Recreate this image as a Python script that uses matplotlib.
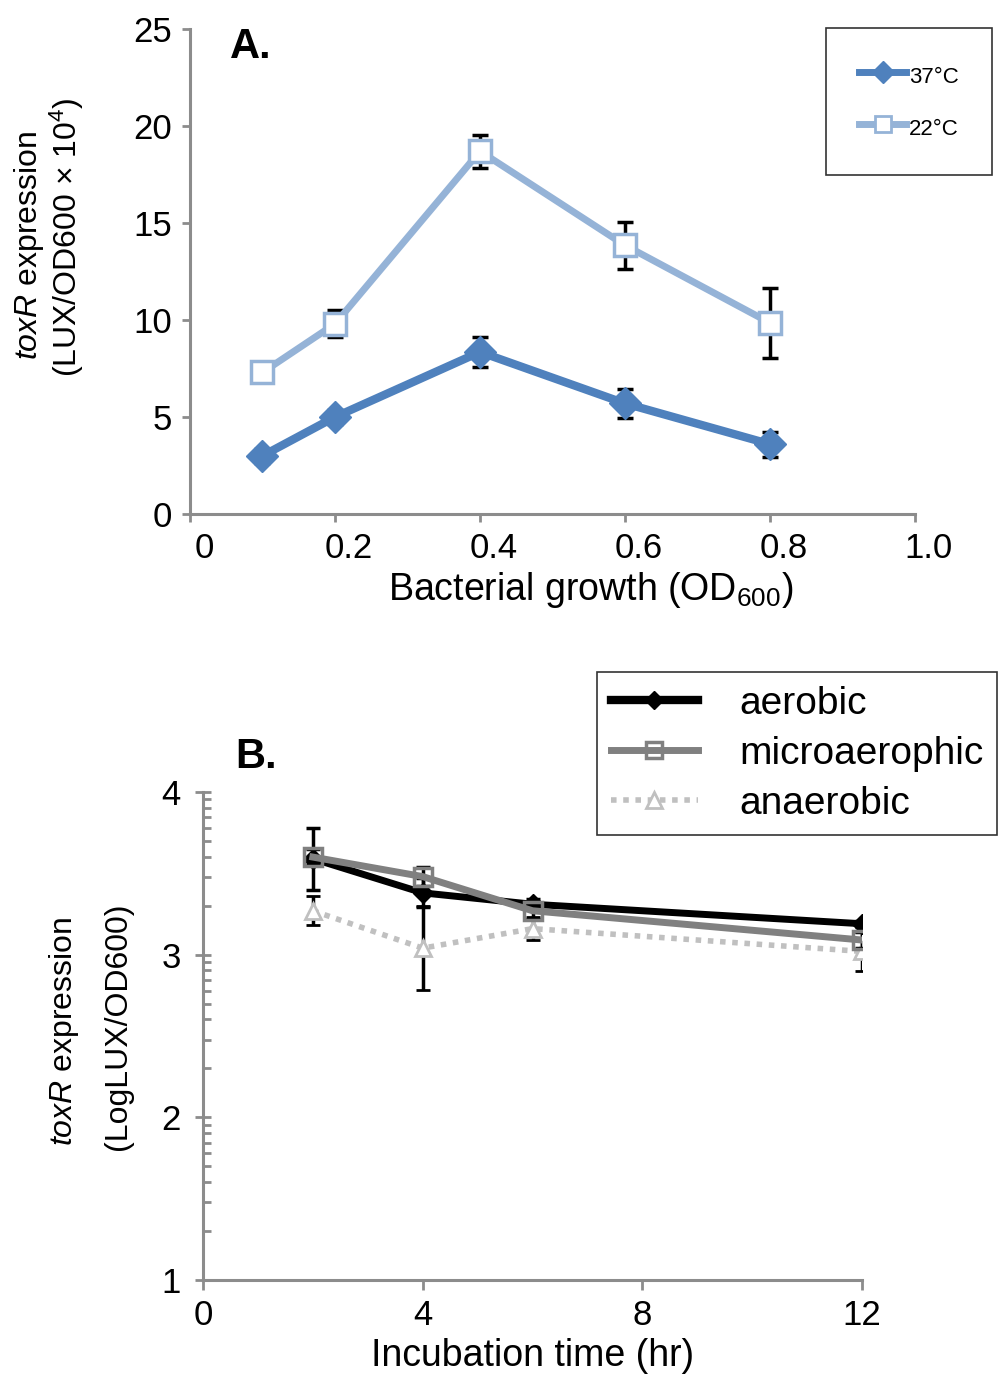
import numpy as np
import matplotlib
matplotlib.use("Agg")
import matplotlib.pyplot as plt
import matplotlib.transforms as mtransforms
from matplotlib.lines import Line2D

plt.rcParams['font.family'] = ['Liberation Sans', 'DejaVu Sans']
plt.rcParams['mathtext.fontset'] = 'custom'
plt.rcParams['mathtext.rm'] = 'Liberation Sans'
plt.rcParams['mathtext.it'] = 'Liberation Sans:italic'

# panel A data
od = [0.1, 0.2, 0.4, 0.6, 0.8]
lux_37 = [3.0, 5.0, 8.35, 5.7, 3.6]
err_37 = [0.35, 0.35, 0.75, 0.75, 0.65]
lux_22 = [7.3, 9.8, 18.7, 13.85, 9.85]
err_22 = [0.35, 0.7, 0.85, 1.2, 1.8]
od_ticks = [0, 0.2, 0.4, 0.6, 0.8, 1.0]
od_ticklabels = ['0', '0.2', '0.4', '0.6', '0.8', '1.0']

# panel B data
hours = [2, 4, 6, 12]
aerobic = [3.59, 3.38, 3.31, 3.19]
aerobic_err = [0.19, 0.09, 0.03, 0.02]
micro = [3.60, 3.48, 3.27, 3.09]
micro_err = [0.05, 0.06, 0.05, 0.05]
anaerobic = [3.27, 3.04, 3.16, 3.02]
anaerobic_err = [0.09, 0.26, 0.07, 0.12]

axis_grey = '#8c8c8c'
blue_dark = '#4f81bd'
blue_light = '#95b3d7'
grey_mid = '#808080'
grey_light = '#c0c0c0'

TICK_FS = 25
LABEL_FS = 27
YLAB_FS = 23

fig = plt.figure(figsize=(10.03, 13.87), dpi=100)
W, H = 1003.0, 1387.0

def px_axes(l, t, r, b):
    return fig.add_axes([l / W, 1 - b / H, (r - l) / W, (b - t) / H])

def style_axes(ax):
    for s in ['top', 'right']:
        ax.spines[s].set_visible(False)
    for s in ['left', 'bottom']:
        ax.spines[s].set_color(axis_grey)
        ax.spines[s].set_linewidth(2.2)
    ax.tick_params(which='both', color=axis_grey, width=2.0,
                   labelsize=TICK_FS, labelcolor='black')

# ---------- panel A ----------
axA = px_axes(190, 29, 915, 514)
style_axes(axA)
axA.errorbar(od, lux_22, yerr=err_22, color=blue_light, lw=5, marker='s',
             ms=16, mfc='white', mec=blue_light, mew=2.5, ecolor='black',
             elinewidth=2.5, capsize=6, capthick=2.5, zorder=3)
axA.errorbar(od, lux_37, yerr=err_37, color=blue_dark, lw=6, marker='D',
             ms=16, mfc=blue_dark, mec=blue_dark, ecolor='black',
             elinewidth=2.5, capsize=6, capthick=2.5, zorder=3)
axA.set_xlim(0, 1.0)
axA.set_ylim(0, 25)
axA.set_xticks(od_ticks)
axA.set_xticklabels(od_ticklabels)
axA.set_yticks([0, 5, 10, 15, 20, 25])
axA.tick_params(axis='both', direction='out', length=6, pad=7)
# Excel drew the x labels a little right of their ticks
shift = mtransforms.ScaledTranslation(14 / 100, 0, fig.dpi_scale_trans)
for lab in axA.get_xticklabels():
    lab.set_transform(lab.get_transform() + shift)
axA.set_xlabel('Bacterial growth (OD$_{600}$)', fontsize=LABEL_FS, labelpad=4)
axA.xaxis.set_label_coords((591 - 190) / 725, -0.115)

hA = [Line2D([], [], color=blue_dark, lw=5, marker='D', ms=11,
             mfc=blue_dark, mec=blue_dark),
      Line2D([], [], color=blue_light, lw=5, marker='s', ms=11,
             mfc='white', mec=blue_light, mew=2)]
legA = fig.legend(hA, ['37\u00b0C', '22\u00b0C'], loc='upper left',
                  bbox_to_anchor=(826 / W, 1 - 28 / H), fontsize=16,
                  frameon=True, fancybox=False, edgecolor='black',
                  borderpad=1.5, labelspacing=1.05, handlelength=2.1,
                  handleheight=1.6, handletextpad=0.15, borderaxespad=0)
legA.get_frame().set_linewidth(1.2)
fig.text(230 / W, 1 - 47 / H, 'A.', fontsize=30, fontweight='bold', va='center')
fig.text(29 / W, 1 - 245 / H, r'$\mathit{toxR}$ expression', fontsize=YLAB_FS,
         rotation=90, ha='center', va='center')
fig.text(67 / W, 1 - 237 / H, '(LUX/OD600 \u00d7 10$^{4}$)', fontsize=YLAB_FS,
         rotation=90, ha='center', va='center')

# ---------- panel B ----------
axB = px_axes(203, 792, 862, 1280)
style_axes(axB)
axB.errorbar(hours, anaerobic, yerr=anaerobic_err, color=grey_light, lw=4,
             ls=(0, (1, 1.2)), marker='^', ms=12, mfc='white', mec=grey_light,
             mew=2, ecolor='black', elinewidth=2.5, capsize=5, capthick=2.5,
             zorder=2)
axB.errorbar(hours, aerobic, yerr=aerobic_err, color='black', lw=5,
             marker='D', ms=10, mfc='black', mec='black', ecolor='black',
             elinewidth=2.5, capsize=5, capthick=2.5, zorder=3)
axB.errorbar(hours, micro, yerr=micro_err, color=grey_mid, lw=5,
             marker='s', ms=13, mfc='none', mec=grey_mid, mew=2.5,
             ecolor='black', elinewidth=2.5, capsize=5, capthick=2.5,
             zorder=4)
axB.set_xlim(0, 12)
axB.set_ylim(1, 4)
axB.set_xticks([0, 4, 8, 12])
axB.set_yticks([1, 2, 3, 4])
minor = [d + np.log10(k) for d in range(1, 4) for k in range(2, 10)]
axB.set_yticks(minor, minor=True)
axB.tick_params(axis='y', which='major', direction='inout', length=12, pad=10)
axB.tick_params(axis='y', which='minor', direction='in', length=6)
axB.tick_params(axis='x', which='major', direction='out', length=7, pad=7)
axB.set_xlabel('Incubation time (hr)', fontsize=LABEL_FS, labelpad=4)

hB = [Line2D([], [], color='black', lw=6, marker='D', ms=9,
             mfc='black', mec='black'),
      Line2D([], [], color=grey_mid, lw=5, marker='s', ms=12,
             mfc='none', mec=grey_mid, mew=2.5),
      Line2D([], [], color=grey_light, lw=4, ls=(0, (1, 1.2)), marker='^',
             ms=11, mfc='white', mec=grey_light, mew=2)]
legB = fig.legend(hB, ['aerobic', 'microaerophic', 'anaerobic'],
                  loc='upper left', bbox_to_anchor=(597 / W, 1 - 672 / H),
                  fontsize=28, frameon=True, fancybox=False, edgecolor='black',
                  borderpad=0.35, labelspacing=0.36, handlelength=2.25,
                  handletextpad=1.05, borderaxespad=0)
legB.get_frame().set_linewidth(1.2)
fig.text(235 / W, 1 - 757 / H, 'B.', fontsize=30, fontweight='bold', va='center')
fig.text(64 / W, 1 - 1031 / H, r'$\mathit{toxR}$ expression', fontsize=YLAB_FS,
         rotation=90, ha='center', va='center')
fig.text(118 / W, 1 - 1026 / H, '(LogLUX/OD600)', fontsize=YLAB_FS,
         rotation=90, ha='center', va='center')

fig.savefig('out.png', dpi=100)
